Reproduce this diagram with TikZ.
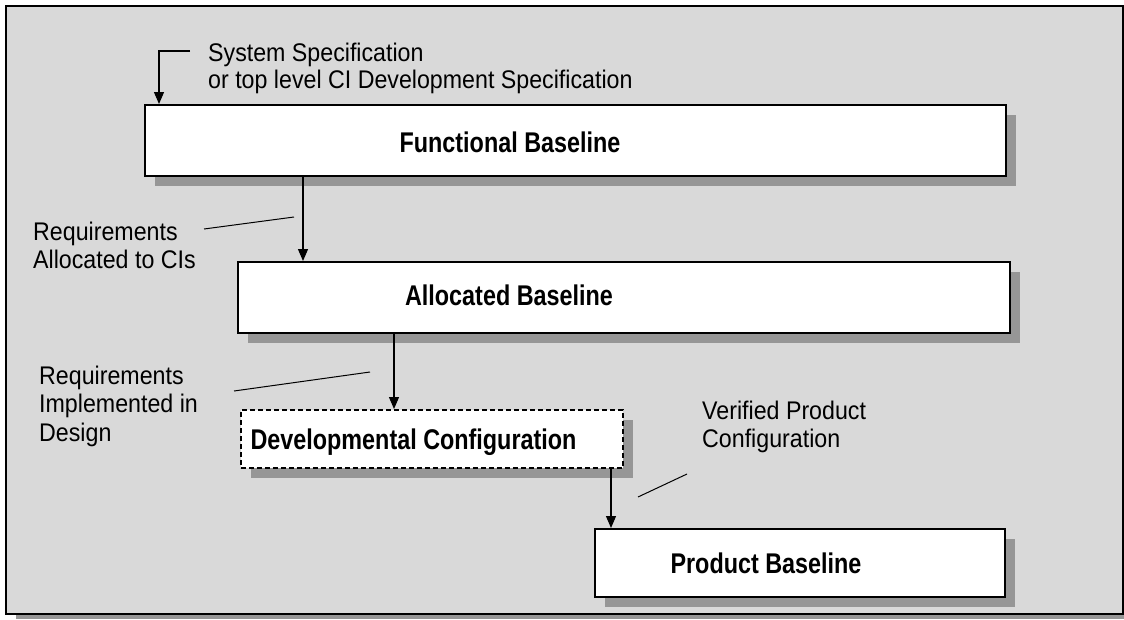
\documentclass[tikz,border=0pt]{standalone}
\usepackage{fontspec}
\setmainfont{Liberation Sans}
\newfontfamily\regfont{Liberation Sans}[FakeStretch=0.91]
\newfontfamily\boldfont{Liberation Sans}[FakeStretch=0.82]
\usetikzlibrary{shadows,arrows.meta,calc}
\definecolor{bggray}{RGB}{217,217,217}
\definecolor{shgray}{RGB}{150,150,150}
\begin{document}
\begin{tikzpicture}[x=1pt,y=-1pt,
  frame/.style={draw=black, line width=1.6pt, fill=bggray,
    general shadow={fill=shgray, shadow xshift=10pt, shadow yshift=-5pt}},
  basebox/.style={draw=black, line width=1.5pt, fill=white,
    general shadow={fill=shgray, shadow xshift=10pt, shadow yshift=-10pt},
    inner sep=0pt, anchor=north west},
  devbox/.style={basebox, dash pattern=on 5pt off 3pt},
  arr/.style={line width=1.2pt, -{Triangle[length=12pt,width=10pt]}},
  leader/.style={line width=1pt},
  lbl/.style={font=\regfont\fontsize{25.5}{28.5}\selectfont, align=left, inner sep=0pt, anchor=north west},
  btxt/.style={font=\boldfont\bfseries\fontsize{28.5}{30}\selectfont, inner sep=0pt, anchor=base}
]
\useasboundingbox (0,0) rectangle (1124,619);
\path[frame] (6,6) rectangle (1123,614);

% boxes
\node[basebox, minimum width=861pt, minimum height=71pt] (fb) at (144,104) {};
\node[basebox, minimum width=772pt, minimum height=71pt] (ab) at (237,261) {};
\node[devbox, minimum width=382pt, minimum height=58pt] (dc) at (240,409) {};
\node[basebox, minimum width=410pt, minimum height=68pt] (pb) at (594,528) {};

% box texts
\node[btxt] (fbt) at (510,152) {Functional Baseline};
\node[btxt] (abt) at (509,305) {Allocated Baseline};
\node[btxt] (dct) at (413.5,449) {Developmental Configuration};
\node[btxt] (pbt) at (766,573) {Product Baseline};

% labels
\node[lbl, font=\regfont\fontsize{25.5}{27}\selectfont] (ssl) at (208,42.5) {System Specification\\or top level CI Development Specification};
\node[lbl] (r1l) at (33,221.5) {Requirements\\Allocated to CIs};
\node[lbl] (r2l) at (39,365.5) {Requirements\\Implemented in\\Design};
\node[lbl] (vpl) at (702,400.5) {Verified Product\\Configuration};

% connectors
\coordinate (ssend) at (190,51);
\draw[arr] (ssend) -| ($(fb.north west)+(15,0)$);
\draw[arr] ($(fb.south west)+(159,0)$) -- ($(ab.north west)+(66,0)$);
\draw[arr] ($(ab.south west)+(157,0)$) -- ($(dc.north west)+(154,0)$);
\draw[arr] ($(dc.south west)+(371,0)$) -- ($(pb.north west)+(17,0)$);

% leader lines
\coordinate (l1a) at (204,229); \coordinate (l1b) at (294,217);
\coordinate (l2a) at (234,391); \coordinate (l2b) at (370,372);
\coordinate (l3a) at (638,497); \coordinate (l3b) at (687,474);
\draw[leader] (l1a) -- (l1b);
\draw[leader] (l2a) -- (l2b);
\draw[leader] (l3a) -- (l3b);
\end{tikzpicture}
\end{document}
